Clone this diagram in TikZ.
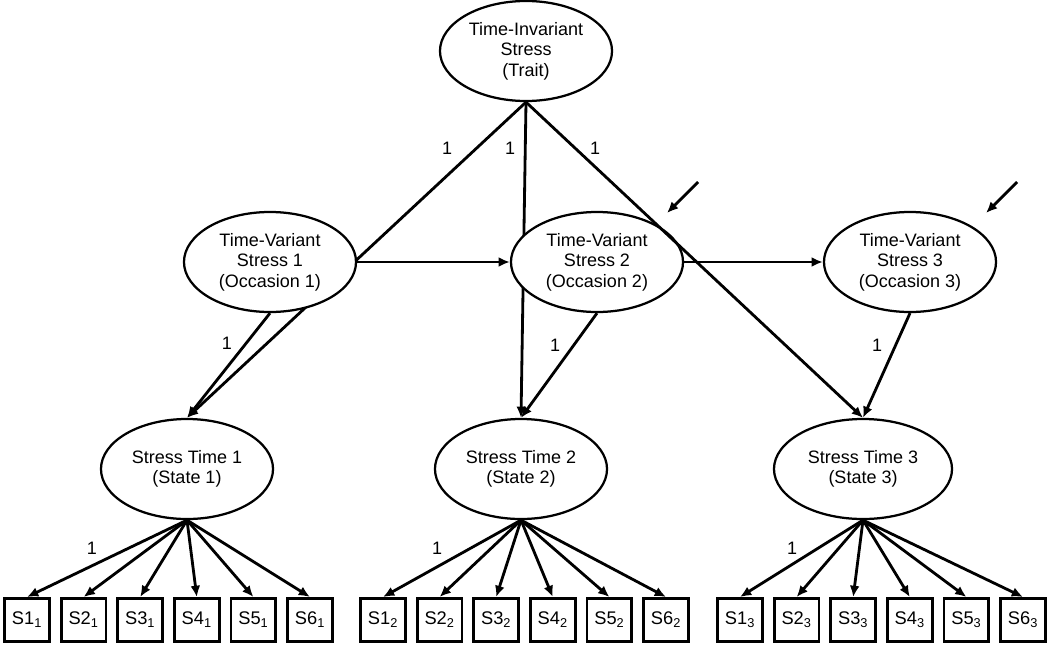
\documentclass[tikz,border=0pt]{standalone}
\usepackage{fontspec}
\setmainfont{Liberation Sans}
\usetikzlibrary{shapes.geometric,arrows.meta,backgrounds}

\tikzset{
  latent/.style={ellipse, draw, line width=1.6pt, fill=white, minimum width=4.3cm,
    minimum height=2.5cm, inner sep=0pt, align=center, font=\fontsize{12.8}{14.6}\selectfont},
  item/.style={rectangle, draw, line width=2pt, fill=white, minimum width=1.12cm,
    minimum height=1.08cm, inner sep=0pt, font=\fontsize{13}{14.6}\selectfont},
  load/.style={line width=2pt, -{Latex[length=8pt,width=7pt]}},
  lbl/.style={font=\fontsize{12.8}{14.6}\selectfont},
}

\begin{document}
\begin{tikzpicture}[x=0.025cm, y=-0.025cm]
        \useasboundingbox (0,0) rectangle (1050,645);

        % Trait and occasion factors
        \node[latent] (trait) at (526,51) {Time-Invariant\\Stress\\(Trait)};
        \node[latent] (tv1) at (270,262) {Time-Variant\\Stress 1\\(Occasion 1)};
        \node[latent] (tv2) at (597,262) {Time-Variant\\Stress 2\\(Occasion 2)};
        \node[latent] (tv3) at (910,262) {Time-Variant\\Stress 3\\(Occasion 3)};

        % State factors
        \node[latent] (st1) at (187,469) {Stress Time 1\\(State 1)};
        \node[latent] (st2) at (521,469) {Stress Time 2\\(State 2)};
        \node[latent, minimum width=4.45cm] (st3) at (863,469) {Stress Time 3\\(State 3)};

        % Trait paths (behind the occasion ellipses)
        \begin{scope}[on background layer]
          \draw[load] (trait.south) -- (st1.north);
          \draw[load] (trait.south) -- (st2.north);
        \end{scope}
        \draw[load] (trait.south) -- (st3.north);

        % Occasion paths
        \draw[load] (tv1.south) -- (st1.north);
        \draw[load] (tv2.south) -- (st2.north);
        \draw[load] (tv3.south) -- (st3.north);
        \draw[load] (tv1.east) -- (tv2.west);
        \draw[load] (tv2.east) -- (tv3.west);

        % Residuals
        \coordinate (r2a) at (698,182);
        \coordinate (r2b) at (667,213);
        \coordinate (r3a) at (1017,182);
        \coordinate (r3b) at (986,213);
        \draw[load] (r2a) -- (r2b);
        \draw[load] (r3a) -- (r3b);

        % Indicators
        \foreach \g/\x in {1/27, 2/383, 3/740}{
          \foreach \i in {1,...,6}{
            \node[item] (s\i-\g) at ({\x+56.6*(\i-1)},620) {S\i\textsubscript{\g}};
            \draw[load] (st\g.south) -- (s\i-\g.north);
          }
        }

        % Fixed loadings
        \node[lbl] (f1) at (447,148) {1};
        \node[lbl] (f2) at (510,148) {1};
        \node[lbl] (f3) at (595,148) {1};
        \node[lbl] (f4) at (227,343) {1};
        \node[lbl] (f5) at (555,345) {1};
        \node[lbl] (f6) at (877,345) {1};
        \node[lbl] (f7) at (92,548) {1};
        \node[lbl] (f8) at (437,548) {1};
        \node[lbl] (f9) at (792,548) {1};

    \end{tikzpicture}
\end{document}
